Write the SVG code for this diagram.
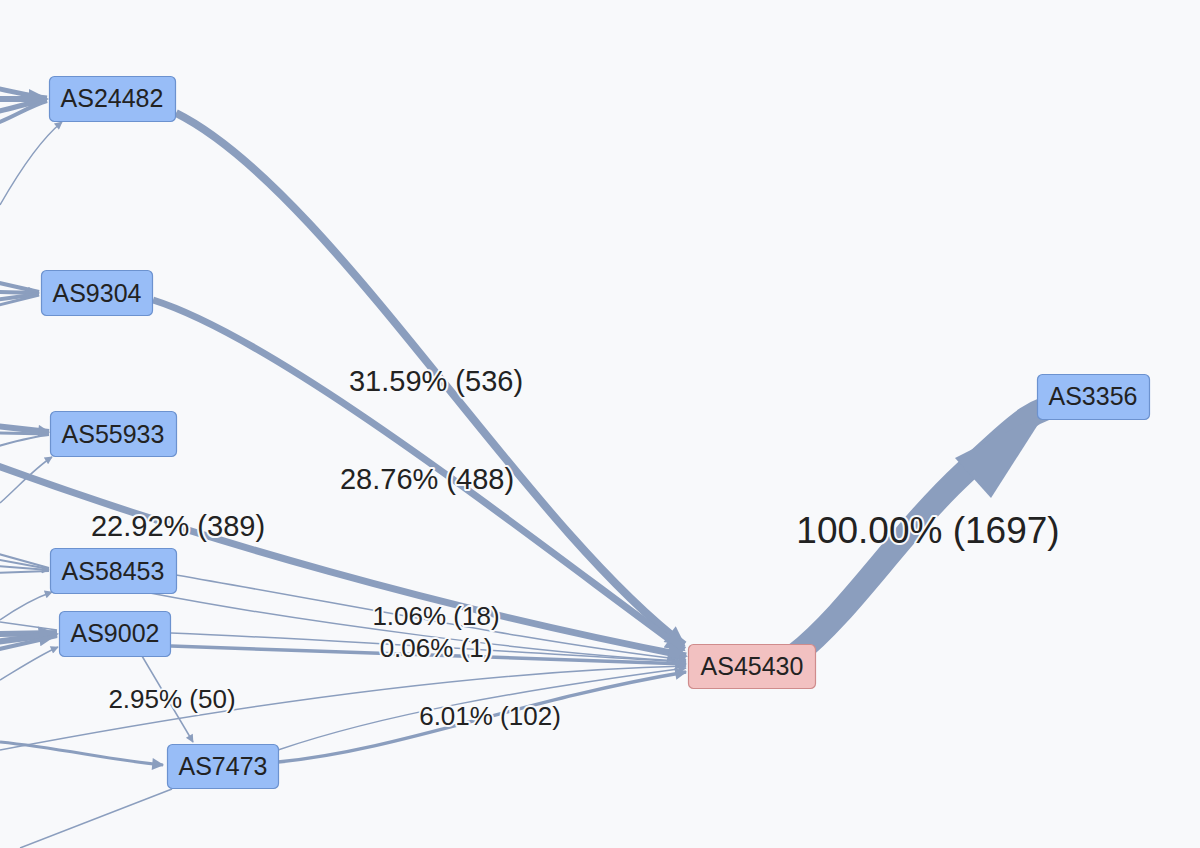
<svg xmlns="http://www.w3.org/2000/svg" width="1200" height="848" viewBox="0 0 1200 848">
<defs>
<style>
.e{fill:none;stroke:#8b9ebe;stroke-linecap:butt}
.t1{stroke-width:1.5}
.t2{stroke-width:3.5}
.t3{stroke-width:7.5}
.n rect{fill:#98bdf7;stroke:#6c92cf;stroke-width:1.2}
.p rect{fill:#f2c1c1;stroke:#cf8c8c;stroke-width:1.2}
.n text,.p text{font-family:"Liberation Sans",Arial,sans-serif;font-size:25px;fill:#222;text-anchor:middle}
.l{font-family:"Liberation Sans",Arial,sans-serif;fill:#222;text-anchor:middle;stroke:#f8f9fb;stroke-width:4px;paint-order:stroke;stroke-linejoin:round}
</style>
<marker id="as" viewBox="0 0 10 10" refX="9" refY="5" markerUnits="userSpaceOnUse" markerWidth="11" markerHeight="8" orient="auto"><path d="M0,0L10,5L0,10z" fill="#8b9ebe"/></marker>
<marker id="am" viewBox="0 0 10 10" refX="9" refY="5" markerUnits="userSpaceOnUse" markerWidth="15" markerHeight="12" orient="auto"><path d="M0,0L10,5L0,10z" fill="#8b9ebe"/></marker>
<marker id="al" viewBox="0 0 10 10" refX="9" refY="5" markerUnits="userSpaceOnUse" markerWidth="26" markerHeight="20" orient="auto"><path d="M0,0L10,5L0,10z" fill="#8b9ebe"/></marker>
</defs>
<rect width="1200" height="848" fill="#f8f9fb"/>
<g id="connectors">
<!-- incoming from left to AS24482 -->
<path class="e" stroke-width="5" d="M-5,88 C15,92 30,96 47,98"/>
<path class="e" stroke-width="6" d="M-5,99 L47,99" marker-end="url(#al)"/>
<path class="e" stroke-width="5" d="M-5,112 C15,108 30,102 47,100"/>
<path class="e" stroke-width="4" d="M-5,124 C15,116 30,106 47,101"/>
<path class="e t1" d="M0,205 C20,170 40,140 62,122" marker-end="url(#as)"/>
<!-- to AS9304 -->
<path class="e" stroke-width="4" d="M-5,282 L39,292"/>
<path class="e" stroke-width="4" d="M-5,292 L39,293" marker-end="url(#am)"/>
<path class="e" stroke-width="4" d="M-5,300 L39,294"/>
<path class="e" stroke-width="3" d="M-5,306 L39,295"/>
<!-- to AS55933 -->
<path class="e" stroke-width="6" d="M-5,426 L49,432" marker-end="url(#am)"/>
<path class="e" stroke-width="3" d="M-5,433 L49,434"/>
<path class="e" stroke-width="2" d="M-5,447 C20,440 35,436 49,435"/>
<path class="e t1" d="M0,503 C20,485 35,468 52,457" marker-end="url(#as)"/>
<!-- to AS58453 -->
<path class="e" stroke-width="2" d="M-5,553 L49,568"/>
<path class="e" stroke-width="2" d="M-5,559 L49,569"/>
<path class="e" stroke-width="2" d="M-5,566 L49,570" marker-end="url(#as)"/>
<path class="e" stroke-width="2" d="M-5,573 L49,571"/>
<path class="e t1" d="M0,620 C20,606 35,598 52,592" marker-end="url(#as)"/>
<!-- to AS9002 -->
<path class="e" stroke-width="6" d="M-5,634 L57,633"/>
<path class="e" stroke-width="6" d="M-5,642 L57,634" marker-end="url(#al)"/>
<path class="e" stroke-width="4" d="M-5,650 L57,636"/>
<path class="e t1" d="M0,622 L57,630"/>
<path class="e t1" d="M0,680 C20,668 40,655 58,647" marker-end="url(#as)"/>
<!-- lower left -->
<path class="e" stroke-width="3" d="M0,742 C60,748 110,760 163,765" marker-end="url(#am)"/>
<path class="e t1" d="M20,848 L172,789"/>
<path class="e t1" d="M142,656 L193,742" marker-end="url(#as)"/>
<!-- into AS45430 -->
<path class="e" stroke-width="8" d="M176,113 C330,190 520,520 684,645" marker-end="url(#al)"/>
<path class="e" stroke-width="7" d="M153,300 C280,340 520,530 684,650" marker-end="url(#al)"/>
<path class="e" stroke-width="7" d="M-5,465 C200,540 450,610 686,656" marker-end="url(#al)"/>
<path class="e t1" d="M176,575 C350,605 550,645 686,660" marker-end="url(#as)"/>
<path class="e t1" d="M150,593 C300,622 550,655 686,661"/>
<path class="e t1" d="M171,633 C350,640 550,655 686,662" marker-end="url(#as)"/>
<path class="e t2" d="M171,646 C350,652 550,660 686,664" marker-end="url(#am)"/>
<path class="e t1" d="M0,750 C200,712 450,672 686,666" marker-end="url(#as)"/>
<path class="e t1" d="M278,750 C380,715 520,690 686,668" marker-end="url(#as)"/>
<path class="e t2" d="M278,762 C400,750 520,700 686,672" marker-end="url(#am)"/>
<!-- AS45430 to AS3356 -->
<path class="e" stroke-width="24" d="M795,655 C850,612 900,532 965,472 S1030,412 1068,402"/>
<polygon points="955,458 991,498 1046,412" fill="#8b9ebe"/>
<!-- labels -->
<text class="l" x="436" y="391" font-size="29">31.59% (536)</text>
<text class="l" x="427" y="489" font-size="29">28.76% (488)</text>
<text class="l" x="178" y="536" font-size="29">22.92% (389)</text>
<text class="l" x="436" y="625" font-size="26">1.06% (18)</text>
<text class="l" x="436" y="657" font-size="26">0.06% (1)</text>
<text class="l" x="172" y="708" font-size="26">2.95% (50)</text>
<text class="l" x="490" y="725" font-size="26">6.01% (102)</text>
<text class="l" x="928" y="543" font-size="37">100.00% (1697)</text>
</g>
<g id="AS24482" class="n"><rect x="49.5" y="76.5" width="126" height="45" rx="5"/><text x="112" y="107">AS24482</text></g>
<g id="AS9304" class="n"><rect x="41.5" y="270.5" width="111" height="45" rx="5"/><text x="97" y="302">AS9304</text></g>
<g id="AS55933" class="n"><rect x="50.5" y="411.5" width="126" height="45" rx="5"/><text x="113" y="443">AS55933</text></g>
<g id="AS58453" class="n"><rect x="50.5" y="548.5" width="126" height="45" rx="5"/><text x="113" y="580">AS58453</text></g>
<g id="AS9002" class="n"><rect x="59.5" y="611.5" width="111" height="45" rx="5"/><text x="115" y="642">AS9002</text></g>
<g id="AS7473" class="n"><rect x="167.5" y="744.5" width="111" height="44" rx="5"/><text x="223" y="775">AS7473</text></g>
<g id="AS45430" class="p"><rect x="688.5" y="644.5" width="127" height="44" rx="5"/><text x="752" y="675">AS45430</text></g>
<g id="AS3356" class="n"><rect x="1037.5" y="374.5" width="112" height="45" rx="5"/><text x="1093" y="405">AS3356</text></g>
</svg>
